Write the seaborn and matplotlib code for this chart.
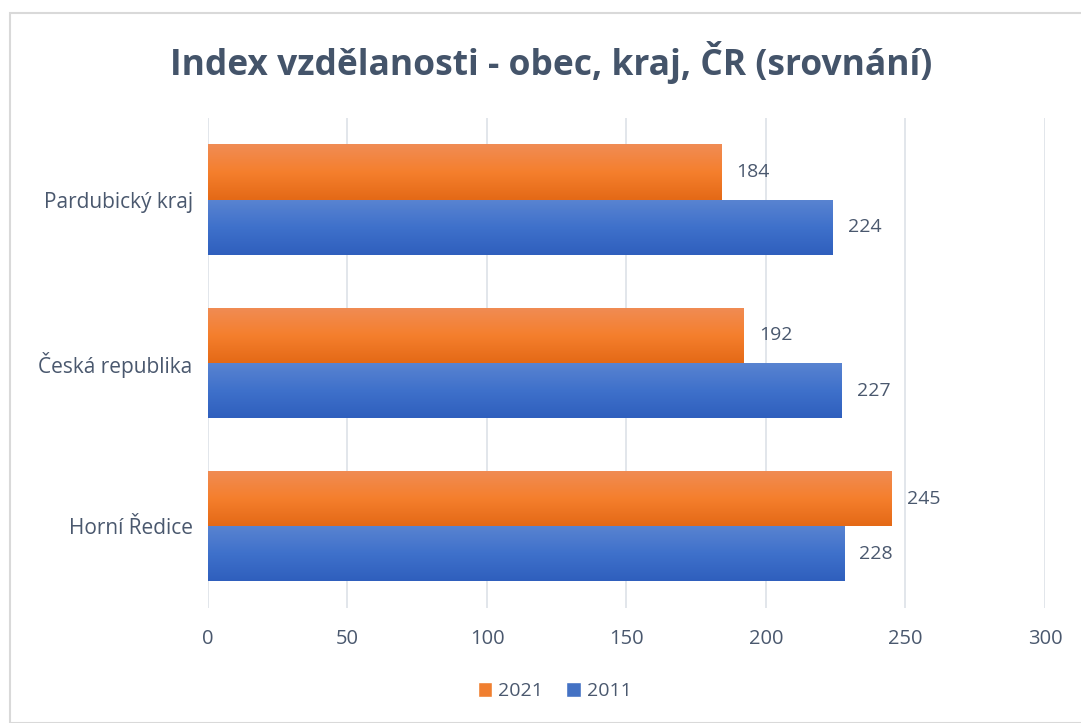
import numpy as np
import pandas as pd
import matplotlib
matplotlib.use("Agg")
import matplotlib.pyplot as plt
from matplotlib.colors import LinearSegmentedColormap
from matplotlib.patches import Rectangle
import seaborn as sns

regions = ["Pardubický kraj", "Česká republika", "Horní Ředice"]
years = ["2021", "2011"]
values_2021 = [184, 192, 245]
values_2011 = [224, 227, 228]
x_ticks = [0, 50, 100, 150, 200, 250, 300]

base_colors = {"2021": "#F07F30", "2011": "#4472C4"}
gradients = {
    "2021": ["#F08C55", "#F57F2D", "#E46916"],
    "2011": ["#5A84D1", "#3F71CB", "#2F5FBD"],
}
text_color = "#4A586E"


def main():
    df = pd.DataFrame({
        "region": regions * 2,
        "year": ["2021"] * 3 + ["2011"] * 3,
        "value": values_2021 + values_2011,
    })

    sns.set_style("white")
    plt.rcParams["font.family"] = ["Open Sans", "DejaVu Sans"]

    fig = plt.figure(figsize=(10.81, 7.23), dpi=100)
    fig.patch.set_facecolor("white")
    ax = fig.add_axes([0.1924, 0.159, 0.7743, 0.678])

    sns.barplot(data=df, x="value", y="region", hue="year", hue_order=years,
                order=regions, orient="h", palette=base_colors, width=0.675,
                ax=ax, legend=True, saturation=1)

    # vertical gradient fill on each bar, clipped to the bar shape
    for year, cont in zip(years, ax.containers):
        cmap = LinearSegmentedColormap.from_list(year, gradients[year])
        grad = np.linspace(0, 1, 256).reshape(-1, 1)
        for bar in cont:
            x0, y0 = bar.get_x(), bar.get_y()
            w, h = bar.get_width(), bar.get_height()
            im = ax.imshow(grad, cmap=cmap, aspect="auto",
                           extent=[x0, x0 + w, y0 + h, y0], zorder=3)
            im.set_clip_path(bar)
            bar.set_edgecolor("none")
        ax.bar_label(cont, padding=11, fontsize=14, color=text_color)

    ax.set_xlim(0, 300)
    ax.set_ylim(2.5, -0.5)
    ax.set_xticks(x_ticks)
    ax.set_xticklabels([str(t) for t in x_ticks])
    ax.grid(axis="x", color="#DDE1E8", linewidth=1.2)
    ax.set_axisbelow(True)
    for s in ax.spines.values():
        s.set_visible(False)
    ax.tick_params(axis="both", length=0, labelsize=14.5, labelcolor=text_color)
    ax.tick_params(axis="y", labelsize=15)
    ax.tick_params(axis="x", pad=15)
    ax.tick_params(axis="y", pad=11)
    ax.set_xlabel("")
    ax.set_ylabel("")

    handles, labels = ax.get_legend_handles_labels()
    ax.legend_.remove()
    fig.legend(handles, labels, loc="center", bbox_to_anchor=(0.513, 0.044),
               ncol=2, frameon=False, fontsize=14, labelcolor=text_color,
               handlelength=0.75, handleheight=0.75, handletextpad=0.3,
               columnspacing=1.2)

    fig.text(0.51, 0.914, "Index vzdělanosti - obec, kraj, ČR (srovnání)",
             ha="center", va="center", fontsize=25.5, fontweight="bold",
             color="#44546A")

    fig.patches.append(Rectangle((10 / 1081, 0), 1.0, 1 - 13 / 723,
                                 transform=fig.transFigure, fill=False,
                                 edgecolor="#D9D9D9", linewidth=1.5))

    fig.savefig("out.png", dpi=100)


if __name__ == "__main__":
    main()
